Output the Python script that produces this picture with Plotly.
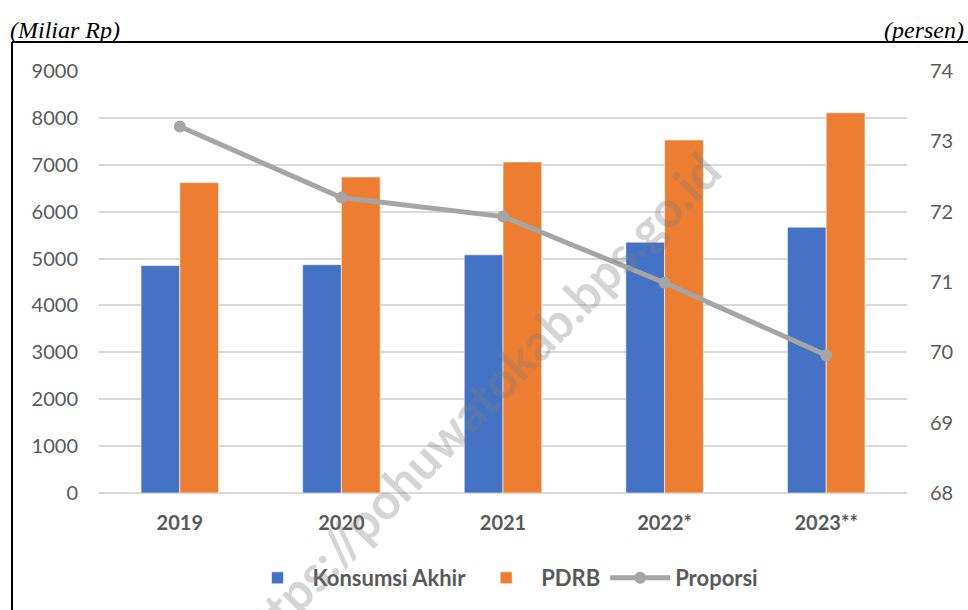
import plotly.graph_objects as go

years = ["2019", "2020", "2021", "2022*", "2023**"]
konsumsi = [4850, 4870, 5080, 5350, 5670]
pdrb = [6620, 6740, 7060, 7530, 8110]
proporsi = [73.21, 72.20, 71.93, 70.99, 69.96]
left_ticks = [0, 1000, 2000, 3000, 4000, 5000, 6000, 7000, 8000, 9000]
right_ticks = [68, 69, 70, 71, 72, 73, 74]

W, H = 968, 610
L, R, T, B = 99, 61, 71, 116
pw, ph = W - L - R, H - T - B

def px(x):
    return (x - L) / pw

def py(y):
    return (H - B - y) / ph

grey_txt = "#595959"
fig = go.Figure()
fig.add_trace(go.Bar(x=years, y=konsumsi, name="Konsumsi Akhir",
                     marker=dict(color="#4472c4", line=dict(color="rgba(255,255,255,0.6)", width=1))))
fig.add_trace(go.Bar(x=years, y=pdrb, name="PDRB",
                     marker=dict(color="#ed7d31", line=dict(color="rgba(255,255,255,0.6)", width=1))))
fig.add_trace(go.Scatter(x=years, y=proporsi, name="Proporsi", yaxis="y2",
                         mode="lines+markers",
                         line=dict(color="#a5a5a5", width=5),
                         marker=dict(color="#a5a5a5", size=12)))

fig.update_layout(
    width=W, height=H,
    margin=dict(l=L, r=R, t=T, b=B),
    paper_bgcolor="white", plot_bgcolor="white",
    barmode="group", bargap=0.52, bargroupgap=0,
    font=dict(family="Lato", size=20, color=grey_txt),
    xaxis=dict(type="category", showgrid=False, showline=False, ticks="",
               ticklabelstandoff=16,
               tickfont=dict(family="Lato", size=20, color=grey_txt, weight="bold")),
    yaxis=dict(range=[0, 9000], tickvals=left_ticks, showgrid=True,
               gridcolor="#d9d9d9", gridwidth=1.5, zeroline=True,
               zerolinecolor="#d9d9d9", zerolinewidth=1.5, showline=False,
               ticks="", ticklabelstandoff=20,
               tickfont=dict(family="Lato", size=20, color=grey_txt)),
    yaxis2=dict(range=[68, 74], tickvals=right_ticks, overlaying="y", side="right",
                showgrid=False, zeroline=False, showline=False, ticks="",
                ticklabelstandoff=22,
                tickfont=dict(family="Lato", size=20, color=grey_txt)),
    legend=dict(orientation="h", x=0.5, xanchor="center", y=py(578), yanchor="middle",
                font=dict(family="Lato", size=22, color=grey_txt, weight="bold"),
                itemwidth=60, traceorder="normal", bgcolor="rgba(0,0,0,0)"),
    showlegend=True,
)

fig.add_annotation(text="https://pohuwatokab.bps.go.id", xref="paper", yref="paper",
                   x=px(476), y=py(405), xanchor="center", yanchor="middle",
                   showarrow=False, textangle=-46,
                   font=dict(family="Lato", size=50, color="rgba(128,128,128,0.33)", weight="bold"))

fig.add_annotation(text="<i>(Miliar Rp)</i>", xref="paper", yref="paper",
                   x=px(8), y=py(30), xanchor="left", yanchor="middle", showarrow=False,
                   font=dict(family="Liberation Serif", size=24, color="black"))
fig.add_annotation(text="<i>(persen)</i>", xref="paper", yref="paper",
                   x=px(966), y=py(30), xanchor="right", yanchor="middle", showarrow=False,
                   font=dict(family="Liberation Serif", size=24, color="black"))

fig.add_shape(type="line", xref="paper", yref="paper", x0=px(12), x1=px(975), y0=py(42), y1=py(42),
              line=dict(color="black", width=2))
fig.add_shape(type="line", xref="paper", yref="paper", x0=px(12), x1=px(12), y0=py(42), y1=py(615),
              line=dict(color="black", width=2))

fig.write_html("out.html", config={"displayModeBar": False},
               post_script="document.body.style.margin='0px';document.body.style.overflow='hidden';")
